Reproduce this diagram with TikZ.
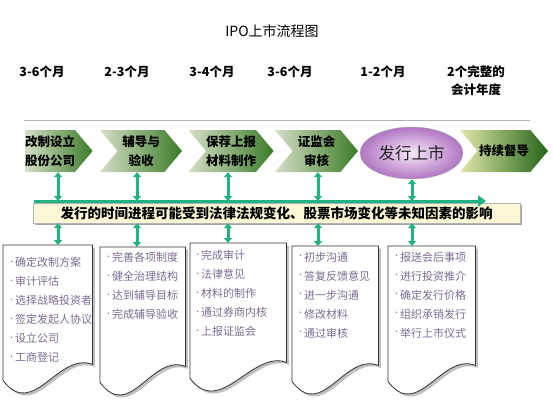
\documentclass[tikz,border=0pt]{standalone}
\usepackage{fontspec}
\setmainfont{Noto Sans CJK SC}
\usepackage{tikz}
\usetikzlibrary{shapes.geometric, shapes.symbols, arrows.meta, shadows}
\definecolor{linkgreen}{RGB}{32,178,130}
\definecolor{chevlight}{RGB}{214,222,198}
\definecolor{chevdark}{RGB}{58,124,40}
\definecolor{itemgray}{RGB}{126,108,147}
\definecolor{bandyellow}{RGB}{252,247,214}
\definecolor{ipolight}{RGB}{248,232,248}
\definecolor{ipodark}{RGB}{176,118,194}
\tikzset{
  chev/.style={
    signal, signal to=east, signal pointer angle=100,
    minimum height=42pt, inner sep=0pt,
    left color=chevlight, right color=chevdark,
    font=\fontsize{12.5}{19}\selectfont\bfseries, align=center
  },
  notch/.style={chev, signal from=west},
  period/.style={font=\fontsize{12.5}{18}\selectfont\bfseries, align=center},
  vlink/.style={{Triangle[width=8pt,length=5pt]}-{Triangle[width=8pt,length=5pt]},
    draw=linkgreen, line width=3pt},
  hlink/.style={-{Triangle[width=11pt,length=8pt]}, draw=linkgreen, line width=3pt}
}
\tikzset{
  docbox/.style={minimum height=135pt, inner sep=0pt, anchor=north west},
  docline/.style={
    draw=gray!40!black, line width=0.8pt, fill=white,
    drop shadow={shadow xshift=2.5pt, shadow yshift=-2.5pt, opacity=0.5}
  },
  items/.style={anchor=north west, inner sep=0pt, align=left,
    text=itemgray, font=\fontsize{11}{19}\selectfont}
}
\newcommand{\itm}{\raisebox{2.5pt}{\fontsize{7}{7}\selectfont•}}

\begin{document}
\begin{tikzpicture}[x=1pt, y=-1pt]
  \useasboundingbox[fill=white] (0,0) rectangle (554,400);

  % title and periods
  \node[font=\fontsize{14}{16}\selectfont] (title) at (272,31) {IPO上市流程图};
  \node[period] (p1) at (42,72)  {3-6个月};
  \node[period] (p2) at (127,72) {2-3个月};
  \node[period] (p3) at (212,72) {3-4个月};
  \node[period] (p4) at (290,72) {3-6个月};
  \node[period] (p5) at (383,72) {1-2个月};
  \node[period] (p6) at (476,81) {2个完整的\\会计年度};
  \draw[gray!60, line width=0.8pt] (24,120) -- (530,120);

  % steps
  \node[chev,  minimum width=64pt] (c1) at (50,151)    {改制设立\\股份公司};
  \node[notch, minimum width=82pt] (c2) at (141,151)   {辅导与\\验收};
  \node[notch, minimum width=78pt] (c3) at (231,151)   {保荐上报\\材料制作};
  \node[notch, minimum width=83pt] (c4) at (316.5,151) {证监会\\审核};
  \node[ellipse, minimum width=103pt, minimum height=52pt, inner color=ipolight,
        outer color=ipodark, draw=gray!60, text=black!85,
        font=\fontsize{16.5}{18}\selectfont]
        (fx) at (411.5,153) {发行上市};
  \node[notch, minimum width=88pt, left color=chevlight!80!yellow!90!white,
        right color=chevdark!85!green!70!black] (c5) at (504,151) {持续督导};

  % band
  \node[minimum width=487pt, minimum height=20pt, inner sep=0pt, fill=bandyellow,
        draw=gray!60, drop shadow={shadow xshift=2pt, shadow yshift=-1.5pt, opacity=0.7},
        font=\fontsize{13.5}{15}\selectfont\bfseries]
        (band) at (276.5,213) {发行的时间进程可能受到法律法规变化、股票市场变化等未知因素的影响};
  \coordinate (linestart) at (34,201);
  \coordinate (lineend) at (486,201);
  \draw[hlink] (linestart) -- (lineend);

  % documents
  \node[docbox, minimum width=89pt] (d1) at (3,245)   {};
  \node[docbox, minimum width=85pt] (d2) at (100,247) {};
  \node[docbox, minimum width=96pt] (d3) at (190,243) {};
  \node[docbox, minimum width=86pt] (d4) at (292,246) {};
  \node[docbox, minimum width=87pt] (d5) at (388,246) {};
  \foreach \d in {d1,d2,d3,d4,d5}
    \draw[docline] (\d.north west) -- (\d.north east) -- ([yshift=16pt]\d.south east)
      .. controls +(-34,-13) and +(30,40) .. (\d.south west) -- cycle;

  \node[items] (t1) at (8,257)   {\itm 确定改制方案\\\itm 审计评估\\\itm 选择战略投资者\\
                                  \itm 签定发起人协议\\\itm 设立公司\\\itm 工商登记};
  \node[items] (t2) at (105,252) {\itm 完善各项制度\\\itm 健全治理结构\\\itm 达到辅导目标\\
                                  \itm 完成辅导验收};
  \node[items] (t3) at (194,250) {\itm 完成审计\\\itm 法律意见\\\itm 材料的制作\\
                                  \itm 通过券商内核\\\itm 上报证监会};
  \node[items] (t4) at (297,252) {\itm 初步沟通\\\itm 答复反馈意见\\\itm 进一步沟通\\
                                  \itm 修改材料\\\itm 通过审核};
  \node[items] (t5) at (393,252) {\itm 报送会后事项\\\itm 进行投资推介\\\itm 确定发行价格\\
                                  \itm 组织承销发行\\\itm 举行上市仪式};

  % links step -> band -> document
  \foreach \c/\d/\s in {c1/d1/8, c2/d2/-4, c3/d3/-3, c4/d4/1.5, fx/d5/0.5} {
    \draw[vlink] ([xshift=\s pt]\c.south) -- ([xshift=\s pt]\c.south |- linestart);
    \draw[vlink] ([xshift=\s pt]\c.south |- band.south) -- ([xshift=\s pt]\c.south |- \d.north);
  }
\end{tikzpicture}
\end{document}
